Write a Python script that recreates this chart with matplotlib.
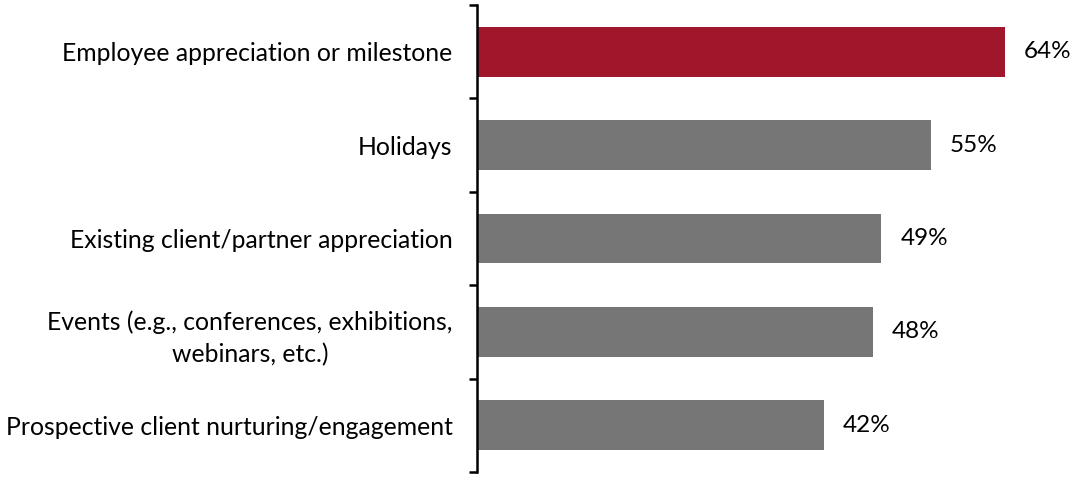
import matplotlib.pyplot as plt
import numpy as np

categories = [
    "Employee appreciation or milestone",
    "Holidays",
    "Existing client/partner appreciation",
    "Events (e.g., conferences, exhibitions,\nwebinars, etc.)",
    "Prospective client nurturing/engagement",
]
values = [64, 55, 49, 48, 42]
colors = ["#A0162B", "#767676", "#767676", "#767676", "#767676"]

plt.rcParams['font.family'] = ['Lato', 'DejaVu Sans']

fig = plt.figure(figsize=(10.81, 4.84), dpi=100)
ax = fig.add_axes([477 / 1081, 12 / 484, 1 - 477 / 1081, 467 / 484])

y = np.arange(len(categories))
ax.barh(y, values, height=0.535, color=colors, left=0)

for yi, v in zip(y, values):
    ax.text(v + 2.3, yi, f"{v}%", va='center', ha='left', fontsize=17.5)

ax.set_xlim(0, 73.2)
ax.set_ylim(len(categories) - 0.5, -0.5)

ax.set_yticks(y)
ax.set_yticklabels(categories, fontsize=17.8, ha='right',
                   multialignment='center', linespacing=1.45)
ax.tick_params(axis='y', which='major', length=0, pad=17.5)
ax.set_yticks(np.arange(-0.5, len(categories), 1), minor=True)
ax.tick_params(axis='y', which='minor', length=6, width=1.8, direction='out')

ax.set_xticks([])
for s in ['top', 'right', 'bottom']:
    ax.spines[s].set_visible(False)
ax.spines['left'].set_linewidth(1.8)

fig.savefig("out.png", dpi=100)
